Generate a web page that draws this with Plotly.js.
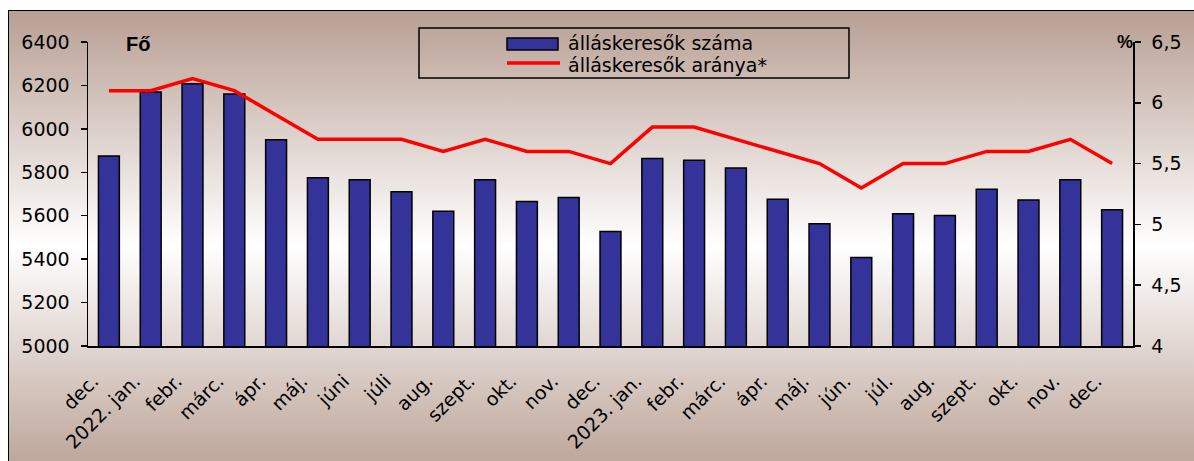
<!DOCTYPE html>
<html>
<head>
<meta charset="utf-8">
<script src="https://cdn.plot.ly/plotly-3.0.1.min.js"></script>
<style>
  html, body { margin: 0; padding: 0; background: #ffffff; overflow: hidden; }
  #frame {
    position: absolute; left: 8px; top: 10px; width: 1200px; height: 470px;
    border: 1px solid #000;
    background: linear-gradient(to bottom, #b89f93 0%, #ffffff 50%, #b89f93 100%);
  }
  #chart { position: absolute; left: 0; top: 0; width: 1194px; height: 461px; }
</style>
</head>
<body>
<div id="frame"></div>
<div id="chart"></div>
<script>
// ---- data ----
const months = ['dec.', '2022. jan.', 'febr.', 'márc.', 'ápr.', 'máj.', 'júni', 'júli', 'aug.', 'szept.', 'okt.', 'nov.', 'dec.',
                '2023. jan.', 'febr.', 'márc.', 'ápr.', 'máj.', 'jún.', 'júl.', 'aug.', 'szept.', 'okt.', 'nov.', 'dec.'];
const jobseekers = [5875, 6170, 6208, 6160, 5950, 5775, 5766, 5710, 5620, 5766, 5666, 5684, 5527,
                    5864, 5856, 5820, 5676, 5563, 5407, 5609, 5601, 5722, 5672, 5766, 5627];
const jobseekerRate = [6.1, 6.1, 6.2, 6.1, 5.9, 5.7, 5.7, 5.7, 5.6, 5.7, 5.6, 5.6, 5.5,
                       5.8, 5.8, 5.7, 5.6, 5.5, 5.3, 5.5, 5.5, 5.6, 5.6, 5.7, 5.5];
const leftTicks = [5000, 5200, 5400, 5600, 5800, 6000, 6200, 6400];
const rightTicks = [4, 4.5, 5, 5.5, 6, 6.5];
const seriesNames = ['álláskeresők száma', 'álláskeresők aránya*'];

// ---- layout geometry ----
const W = 1194, H = 461;
const M = { l: 88, r: 61, t: 42, b: 115 };
const PW = W - M.l - M.r, PH = H - M.t - M.b;
const px = x => (x - M.l) / PW;
const py = y => (H - M.b - y) / PH;

const idx = months.map((_, i) => i);
const labelPos = idx.map(i => i - 0.38);
const bounds = months.map((_, i) => i - 0.5).concat([months.length - 0.5]);
const xr = [-0.5, months.length - 0.5];
const FONT = 'DejaVu Sans, Liberation Sans, Arial, sans-serif';
const FS = 19;

const traces = [
  {
    type: 'bar', x: idx, y: jobseekers, name: seriesNames[0],
    marker: { color: '#333399', line: { color: '#000000', width: 1.5 } },
    xaxis: 'x', yaxis: 'y', showlegend: false, hoverinfo: 'skip'
  },
  {
    type: 'scatter', mode: 'lines', x: idx, y: jobseekerRate, name: seriesNames[1],
    line: { color: '#ff0000', width: 3.5 },
    xaxis: 'x', yaxis: 'y2', showlegend: false, hoverinfo: 'skip'
  }
];

const tickStyle = { tickcolor: '#000', tickwidth: 1.5 };

const layout = {
  width: W, height: H,
  margin: { l: M.l, r: M.r, t: M.t, b: M.b, pad: 0 },
  paper_bgcolor: 'rgba(0,0,0,0)',
  plot_bgcolor: 'rgba(0,0,0,0)',
  separators: ', ',
  font: { family: FONT, size: FS, color: '#000' },
  bargap: 0.5,
  showlegend: false,
  xaxis: {
    range: xr, tickmode: 'array', tickvals: labelPos, ticktext: months,
    tickangle: -45, ticks: '', showgrid: false, zeroline: false,
    showline: true, linecolor: '#000', linewidth: 1.5,
    tickfont: { family: FONT, size: FS, color: '#000' },
    ticklabelstandoff: 15, fixedrange: true
  },
  xaxis2: {
    overlaying: 'x', anchor: 'y', side: 'bottom', range: xr,
    tickmode: 'array', tickvals: bounds, ticks: 'outside', ticklen: 7, ...tickStyle,
    showticklabels: false, showgrid: false, zeroline: false, showline: false
  },
  xaxis3: {
    overlaying: 'x', anchor: 'y', side: 'bottom', range: xr,
    tickmode: 'array', tickvals: bounds, ticks: 'inside', ticklen: 4, ...tickStyle,
    showticklabels: false, showgrid: false, zeroline: false, showline: false
  },
  yaxis: {
    range: [leftTicks[0], leftTicks[leftTicks.length - 1]], tickmode: 'array', tickvals: leftTicks,
    ticks: 'outside', ticklen: 6, ...tickStyle, showgrid: false, zeroline: false,
    showline: true, linecolor: '#000', linewidth: 1.5,
    tickfont: { family: FONT, size: FS, color: '#000' }, ticklabelstandoff: 7
  },
  yaxis3: {
    overlaying: 'y', anchor: 'x', side: 'left',
    range: [leftTicks[0], leftTicks[leftTicks.length - 1]], tickmode: 'array', tickvals: leftTicks,
    ticks: 'inside', ticklen: 5, ...tickStyle, showticklabels: false,
    showgrid: false, zeroline: false, showline: false
  },
  yaxis2: {
    overlaying: 'y', anchor: 'x', side: 'right',
    range: [rightTicks[0], rightTicks[rightTicks.length - 1]], tickmode: 'array', tickvals: rightTicks,
    ticks: 'outside', ticklen: 6, ...tickStyle, showgrid: false, zeroline: false,
    showline: true, linecolor: '#000', linewidth: 1.5,
    tickfont: { family: FONT, size: FS, color: '#000' }, ticklabelstandoff: 7
  },
  yaxis4: {
    overlaying: 'y', anchor: 'x', side: 'right',
    range: [rightTicks[0], rightTicks[rightTicks.length - 1]], tickmode: 'array', tickvals: rightTicks,
    ticks: 'inside', ticklen: 5, ...tickStyle, showticklabels: false,
    showgrid: false, zeroline: false, showline: false
  },
  shapes: [
    // legend frame
    { type: 'rect', xref: 'paper', yref: 'paper', x0: px(419), x1: px(849), y0: py(78), y1: py(28),
      line: { color: '#000', width: 1.5 }, fillcolor: 'rgba(0,0,0,0)' },
    // legend swatch: bars
    { type: 'rect', xref: 'paper', yref: 'paper', x0: px(507), x1: px(558), y0: py(50), y1: py(38),
      line: { color: '#000', width: 1.5 }, fillcolor: '#333399' },
    // legend swatch: line
    { type: 'line', xref: 'paper', yref: 'paper', x0: px(507), x1: px(560), y0: py(63), y1: py(63),
      line: { color: '#ff0000', width: 3.5 } }
  ],
  annotations: [
    { xref: 'paper', yref: 'paper', x: px(566), y: py(43), text: seriesNames[0], showarrow: false,
      xanchor: 'left', yanchor: 'middle', font: { family: FONT, size: FS, color: '#000' } },
    { xref: 'paper', yref: 'paper', x: px(566), y: py(65), text: seriesNames[1], showarrow: false,
      xanchor: 'left', yanchor: 'middle', font: { family: FONT, size: FS, color: '#000' } },
    { xref: 'paper', yref: 'paper', x: px(124), y: py(44), text: '<b>Fő</b>', showarrow: false,
      xanchor: 'left', yanchor: 'middle', font: { family: 'Liberation Sans, Arial, sans-serif', size: 20, color: '#000' } },
    { xref: 'paper', yref: 'paper', x: px(1135), y: py(42), text: '<b>%</b>', showarrow: false,
      xanchor: 'right', yanchor: 'middle', font: { family: 'Liberation Sans, Arial, sans-serif', size: 18, color: '#000' } }
  ]
};

Plotly.newPlot('chart', traces, layout, { staticPlot: true, displayModeBar: false });
</script>
</body>
</html>
